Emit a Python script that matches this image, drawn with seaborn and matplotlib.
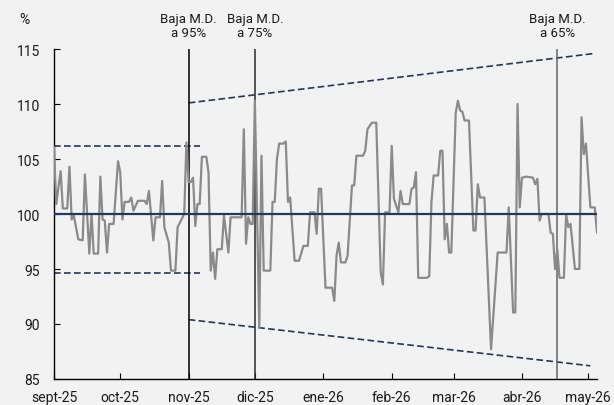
import matplotlib
matplotlib.use("Agg")
import matplotlib.pyplot as plt
import matplotlib.dates as mdates
import matplotlib.transforms as mtransforms
import pandas as pd
import seaborn as sns

# Serie diaria (vértices de la línea), en % respecto a la referencia 100
fechas = [
    "2025-09-01", "2025-09-02", "2025-09-04", "2025-09-05", "2025-09-07", "2025-09-08",
    "2025-09-09", "2025-09-10", "2025-09-12", "2025-09-14", "2025-09-15", "2025-09-17",
    "2025-09-18", "2025-09-19", "2025-09-21", "2025-09-22", "2025-09-23", "2025-09-24",
    "2025-09-25", "2025-09-26", "2025-09-28", "2025-09-30",
    "2025-10-01", "2025-10-02", "2025-10-03", "2025-10-05", "2025-10-06", "2025-10-07",
    "2025-10-09", "2025-10-12", "2025-10-13", "2025-10-14", "2025-10-16", "2025-10-17",
    "2025-10-19", "2025-10-20", "2025-10-21", "2025-10-23", "2025-10-24", "2025-10-26",
    "2025-10-27", "2025-10-28", "2025-10-30", "2025-10-31",
    "2025-11-01", "2025-11-02", "2025-11-03", "2025-11-04", "2025-11-05", "2025-11-06",
    "2025-11-07", "2025-11-09", "2025-11-10", "2025-11-11", "2025-11-12", "2025-11-13",
    "2025-11-14", "2025-11-16", "2025-11-17", "2025-11-19", "2025-11-20", "2025-11-25",
    "2025-11-26", "2025-11-27", "2025-11-28", "2025-11-29", "2025-11-30",
    "2025-12-01", "2025-12-03", "2025-12-04", "2025-12-05", "2025-12-08", "2025-12-09",
    "2025-12-10", "2025-12-11", "2025-12-12", "2025-12-14", "2025-12-15", "2025-12-16",
    "2025-12-17", "2025-12-19", "2025-12-21", "2025-12-23", "2025-12-25", "2025-12-26",
    "2025-12-28", "2025-12-29", "2025-12-30", "2025-12-31",
    "2026-01-02", "2026-01-05", "2026-01-06", "2026-01-07", "2026-01-08", "2026-01-09",
    "2026-01-11", "2026-01-12", "2026-01-14", "2026-01-15", "2026-01-16", "2026-01-19",
    "2026-01-20", "2026-01-21", "2026-01-23", "2026-01-25", "2026-01-27", "2026-01-28",
    "2026-01-29", "2026-01-31",
    "2026-02-01", "2026-02-02", "2026-02-04", "2026-02-05", "2026-02-06", "2026-02-09",
    "2026-02-10", "2026-02-11", "2026-02-12", "2026-02-13", "2026-02-17", "2026-02-18",
    "2026-02-19", "2026-02-20", "2026-02-22", "2026-02-23", "2026-02-24", "2026-02-25",
    "2026-02-26", "2026-02-27", "2026-02-28",
    "2026-03-02", "2026-03-03", "2026-03-04", "2026-03-05", "2026-03-06", "2026-03-08",
    "2026-03-10", "2026-03-11", "2026-03-12", "2026-03-13", "2026-03-15", "2026-03-18",
    "2026-03-21", "2026-03-25", "2026-03-26", "2026-03-28", "2026-03-29", "2026-03-30",
    "2026-03-31",
    "2026-04-01", "2026-04-03", "2026-04-06", "2026-04-07", "2026-04-08", "2026-04-09",
    "2026-04-10", "2026-04-13", "2026-04-14", "2026-04-15", "2026-04-16", "2026-04-17",
    "2026-04-18", "2026-04-20", "2026-04-21", "2026-04-22", "2026-04-23", "2026-04-25",
    "2026-04-27", "2026-04-28", "2026-04-29", "2026-04-30",
    "2026-05-02", "2026-05-04", "2026-05-05",
]
valores = [
    106.1, 100.9, 103.9, 100.5, 100.5, 104.3,
    99.5, 99.85, 97.7, 97.6, 103.6, 96.4,
    100.0, 96.4, 96.4, 103.4, 99.5, 99.4,
    96.5, 99.1, 99.1, 104.8,
    103.8, 99.5, 101.1, 101.1, 101.5, 100.3,
    101.2, 101.2, 100.9, 102.1, 97.6, 99.7,
    99.7, 103.0, 98.8, 97.4, 94.85, 94.85,
    98.8, 99.2, 100.0, 106.5,
    102.9, 102.9, 103.3, 98.9, 100.9, 100.9,
    105.2, 105.2, 103.8, 94.85, 96.5, 94.1,
    96.8, 96.8, 99.85, 96.5, 99.7, 99.7,
    107.7, 97.3, 99.7, 99.1, 99.1,
    110.3, 89.7, 105.3, 94.85, 94.85, 101.1,
    101.1, 105.0, 106.4, 106.4, 106.6, 101.1,
    101.5, 95.75, 95.75, 97.1, 97.1, 100.15,
    100.15, 98.2, 102.3, 102.3,
    93.3, 93.3, 92.1, 96.2, 97.4, 95.6,
    95.6, 96.2, 102.6, 102.6, 105.3, 105.3,
    105.75, 107.7, 108.3, 108.3, 94.7, 93.6,
    100.15, 100.15,
    106.2, 101.4, 100.15, 102.1, 100.9, 100.9,
    102.3, 102.4, 103.8, 94.2, 94.2, 94.35,
    101.1, 103.5, 103.5, 105.75, 105.75, 97.7,
    99.1, 96.5, 96.5,
    109.2, 110.3, 109.4, 109.3, 108.5, 108.5,
    98.5, 98.5, 102.7, 101.5, 101.5, 87.7,
    96.5, 96.5, 100.6, 91.05, 91.05, 110.0,
    100.6,
    103.3, 103.4, 103.3, 102.7, 103.2, 99.4,
    100.0, 100.0, 98.3, 98.2, 95.0, 96.8,
    94.2, 94.2, 100.0, 98.8, 99.1, 95.0,
    95.0, 108.8, 105.45, 106.4,
    100.6, 100.6, 98.3,
]

# Eje temporal
meses = ["2025-09-01", "2025-10-01", "2025-11-01", "2025-12-01", "2026-01-01",
         "2026-02-01", "2026-03-01", "2026-04-01", "2026-05-01"]
etiquetas_meses = ["sept-25", "oct-25", "nov-25", "dic-25", "ene-26",
                   "feb-26", "mar-26", "abr-26", "may-26"]
fecha_inicio = "2025-09-01"
fecha_fin = "2026-05-05"

# Bandas de referencia
banda_ini_fechas = ["2025-09-01", "2025-11-06"]
banda_ini_sup = [106.2, 106.2]
banda_ini_inf = [94.6, 94.6]
banda_sup_fechas = ["2025-11-01", "2026-05-04"]
banda_sup = [110.1, 114.6]
banda_inf_fechas = ["2025-11-01", "2026-05-02"]
banda_inf = [90.4, 86.2]
referencia = 100

# Hitos
hitos_fechas = ["2025-11-01", "2025-12-01", "2026-04-17"]
hitos_textos = ["Baja M.D.\na 95%", "Baja M.D.\na 75%", "Baja M.D.\na 65%"]
hitos_colores = ["#000000", "#2a2a2a", "#666666"]

sns.set_style("ticks")
plt.rcParams["font.family"] = ["Roboto", "DejaVu Sans"]

fondo = "#f2f2f2"
azul = "#1f3864"
gris = "#8a8a8a"

fig = plt.figure(figsize=(6.14, 4.06), dpi=100, facecolor=fondo)
ax = fig.add_axes([54 / 614, 1 - 380 / 406, 543 / 614, 330 / 406])
ax.set_facecolor(fondo)

df = pd.DataFrame({"fecha": pd.to_datetime(fechas), "valor": valores})

# Bandas discontinuas
for fx, fy in [(banda_ini_fechas, banda_ini_sup), (banda_ini_fechas, banda_ini_inf),
               (banda_sup_fechas, banda_sup), (banda_inf_fechas, banda_inf)]:
    ax.plot(pd.to_datetime(fx), fy, color=azul, lw=1.2, dashes=(4, 2), zorder=2)

# Hitos verticales
for f, c in zip(hitos_fechas, hitos_colores):
    ax.axvline(pd.Timestamp(f), color=c, lw=1.1, zorder=3)

sns.lineplot(data=df, x="fecha", y="valor", ax=ax, color=gris, lw=1.6, zorder=4)
ax.axhline(referencia, color=azul, lw=1.6, zorder=5)

trans = mtransforms.blended_transform_factory(ax.transData, ax.transAxes)
for f, t in zip(hitos_fechas, hitos_textos):
    ax.text(pd.Timestamp(f), 1.03, t, transform=trans, ha="center", va="bottom",
            fontsize=9.5, linespacing=1.1, color="#1a1a1a")

fig.text(24 / 614, 1 - 20 / 406, "%", ha="center", va="center", fontsize=10, color="#1a1a1a")

ax.set_xlim(pd.Timestamp(fecha_inicio), pd.Timestamp(fecha_fin))
ax.set_ylim(85, 115)
ax.set_yticks([85, 90, 95, 100, 105, 110, 115])
ax.set_xticks(pd.to_datetime(meses))
ax.set_xticklabels(etiquetas_meses)
ax.set_xlabel("")
ax.set_ylabel("")

for s in ["top", "right"]:
    ax.spines[s].set_visible(False)
for s in ["left", "bottom"]:
    ax.spines[s].set_color("#000000")
    ax.spines[s].set_linewidth(1.0)

ax.tick_params(axis="both", direction="in", length=4, width=0.8, colors="#000000",
               labelsize=10, labelcolor="#1a1a1a")
ax.tick_params(axis="x", pad=8)
ax.tick_params(axis="y", pad=10)

fig.savefig("out.png", dpi=100, facecolor=fondo)
